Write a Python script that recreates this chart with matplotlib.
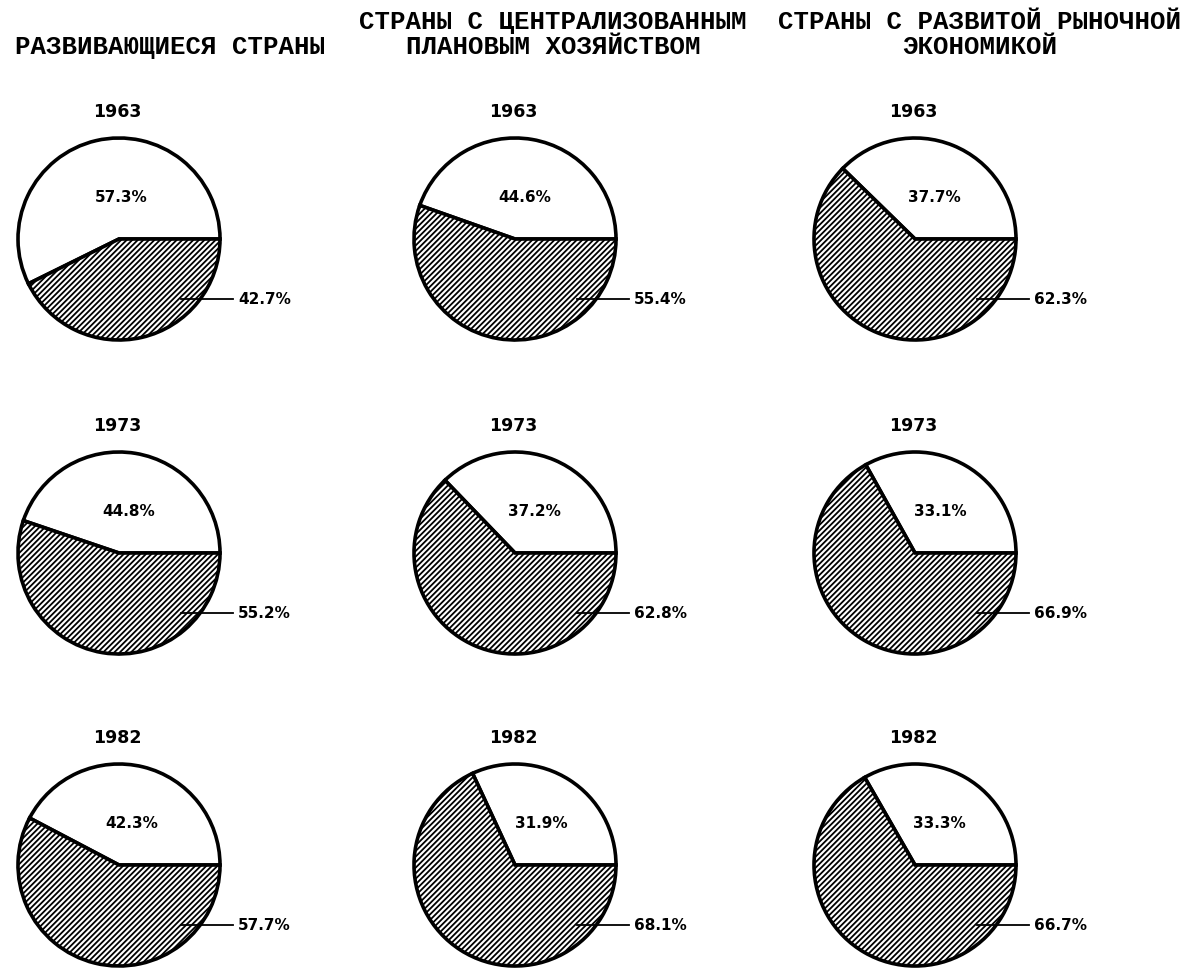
import matplotlib
matplotlib.use("Agg")
import matplotlib.pyplot as plt
import numpy as np

# ---- data ----
column_titles = [
    ["РАЗВИВАЮЩИЕСЯ СТРАНЫ"],
    ["СТРАНЫ С ЦЕНТРАЛИЗОВАННЫМ", "ПЛАНОВЫМ ХОЗЯЙСТВОМ"],
    ["СТРАНЫ С РАЗВИТОЙ РЫНОЧНОЙ", "ЭКОНОМИКОЙ"],
]
years = ["1963", "1973", "1982"]
# share of the white (upper) segment, per column, per year
white_share = [
    [57.3, 44.8, 42.3],
    [44.6, 37.2, 31.9],
    [37.7, 33.1, 33.3],
]
# share of the hatched segment, per column, per year
hatched_share = [
    [42.7, 55.2, 57.7],
    [55.4, 62.8, 68.1],
    [62.3, 66.9, 66.7],
]

# ---- layout (pixel space) ----
W, H = 1194, 968
plt.rcParams["hatch.linewidth"] = 1.3
fig = plt.figure(figsize=(W / 100, H / 100), dpi=100)
ax = fig.add_axes([0, 0, 1, 1])

col_x = [119, 515, 915]
row_y = [239, 553, 865]
title_x = [170, 553, 980]
title_line_y = [22, 47]
R = 101

def Y(py):
    return H - py

for ci in range(3):
    lines = column_titles[ci]
    start = 2 - len(lines)
    for li, line in enumerate(lines):
        ax.text(title_x[ci], Y(title_line_y[start + li]), line,
                ha="center", va="center", fontsize=18.5,
                family="Liberation Mono", fontweight="bold")
    for ri in range(3):
        cx, cy = col_x[ci], row_y[ri]
        w = white_share[ci][ri]
        h = hatched_share[ci][ri]
        wedges, _ = ax.pie([w, h], startangle=0, counterclock=True,
                           center=(cx, Y(cy)), radius=R,
                           colors=["white", "white"],
                           wedgeprops=dict(edgecolor="black", linewidth=2.6))
        wedges[1].set_hatch("//////")
        # year
        ax.text(cx - 2, Y(cy - 127), years[ri], ha="center", va="center",
                fontsize=12.5, fontweight="bold", family="DejaVu Sans")
        # white label
        mid = np.deg2rad(w / 100 * 360 / 2)
        dx = max(0.0, 0.45 * R * np.cos(mid))
        ax.text(cx + 2 + dx, Y(cy - 41), f"{w:.1f}%", ha="center", va="center",
                fontsize=11, fontweight="bold", family="DejaVu Sans")
        # hatched label with leader
        ax.plot([cx + 62, cx + 114], [Y(cy + 60), Y(cy + 60)], color="black", lw=1.3)
        ax.text(cx + 119, Y(cy + 60), f"{h:.1f}%", ha="left", va="center",
                fontsize=11, fontweight="bold", family="DejaVu Sans")

ax.set_xlim(0, W)
ax.set_ylim(0, H)
ax.set_aspect("auto")
ax.axis("off")
fig.savefig("out.png", dpi=100, facecolor="white")
